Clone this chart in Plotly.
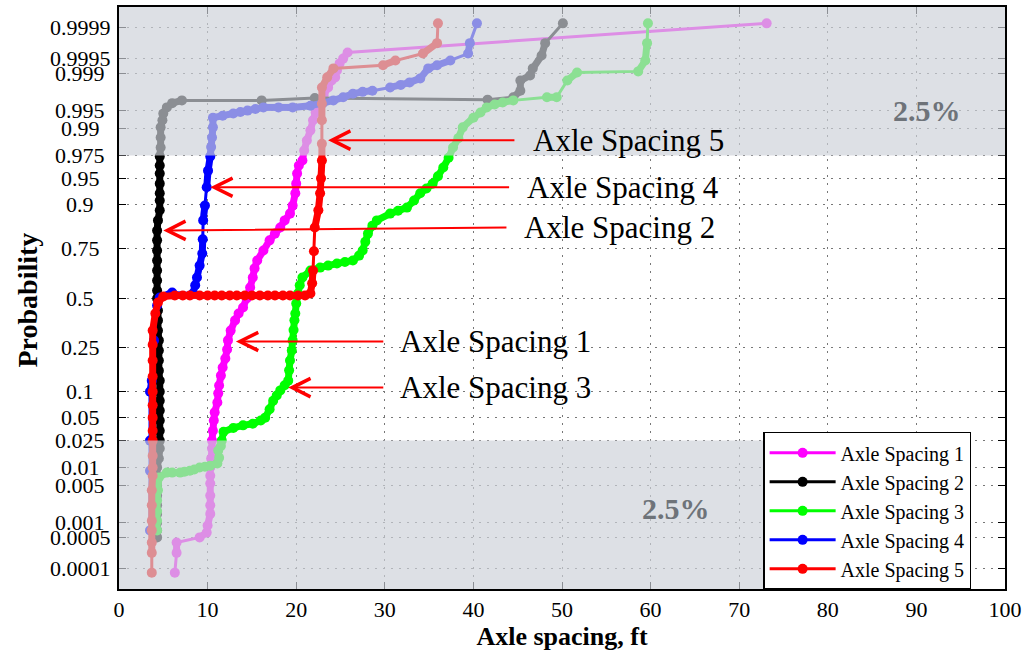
from statistics import NormalDist
import plotly.graph_objects as go

ppf = NormalDist().inv_cdf

series_names = ["Axle Spacing 1", "Axle Spacing 2", "Axle Spacing 3", "Axle Spacing 4", "Axle Spacing 5"]
series_colors = ["#ff00ff", "#000000", "#00ff00", "#0000ff", "#ff0000"]

spacing1_x = [6.3, 6.5, 6.5, 9.1, 9.9, 10.0, 10.3, 10.3, 10.3, 10.3, 10.3, 10.3, 10.4, 10.5, 10.5, 10.6,
              10.7, 10.8, 11.1, 11.2, 11.3, 11.5, 11.7, 12.0, 12.2, 12.3, 12.6, 13.1, 13.5, 14.0, 14.4,
              14.8, 15.1, 15.3, 15.6, 16.3, 17.0, 17.6, 18.2, 18.7, 19.3, 19.6, 19.9, 20.0, 20.1, 20.3,
              20.7, 20.9, 21.2, 21.6, 21.9, 22.2, 22.7, 23.1, 23.6, 24.0, 24.4, 24.6, 24.9, 25.3, 25.8,
              73.1]
spacing1_p = [0.00008, 0.00023, 0.00039, 0.0005, 0.00063, 0.00088, 0.0015, 0.0022, 0.0033, 0.0054,
              0.0073, 0.0099, 0.0137, 0.0193, 0.025, 0.034, 0.046, 0.058, 0.0754, 0.095, 0.1145, 0.143,
              0.17, 0.203, 0.2395, 0.28, 0.327, 0.379, 0.416, 0.448, 0.497, 0.557, 0.611, 0.658, 0.697,
              0.743, 0.786, 0.812, 0.834, 0.857, 0.877, 0.898, 0.925, 0.942, 0.9565, 0.9658, 0.9707,
              0.9787, 0.9848, 0.9894, 0.9927, 0.99462, 0.9963, 0.99732, 0.9981, 0.9986, 0.99879,
              0.99912, 0.99937, 0.9995, 0.99963, 0.99992]

spacing2_x = [4.3, 4.3, 4.3, 4.3, 4.3, 4.3, 4.3, 4.3, 4.3, 4.5, 4.6, 4.6, 4.6, 4.6, 4.6, 4.6, 4.6, 4.6,
              4.5, 4.5, 4.5, 4.5, 4.4, 4.4, 4.4, 4.3, 4.3, 4.3, 4.3, 4.3, 4.3, 4.3, 4.3, 4.4, 4.6, 4.6,
              4.6, 4.6, 4.6, 4.6, 4.6, 4.7, 4.7, 4.7, 4.9, 5.0, 5.4, 6.0, 7.1, 16.1, 22.1, 41.6, 44.5,
              45.3, 45.3, 46.4, 46.7, 47.7, 48.1, 50.1]
spacing2_p = [0.0005, 0.0007, 0.001, 0.0015, 0.0022, 0.0033, 0.005, 0.0073, 0.0099, 0.0137, 0.0193,
              0.025, 0.034, 0.046, 0.061, 0.079, 0.099, 0.128, 0.159, 0.195, 0.235, 0.28, 0.327, 0.379,
              0.432, 0.497, 0.541, 0.595, 0.647, 0.697, 0.743, 0.786, 0.823, 0.857, 0.886, 0.91, 0.925,
              0.942, 0.9565, 0.9658, 0.9742, 0.9807, 0.9863, 0.9905, 0.9927, 0.9944, 0.9956, 0.9963,
              0.9967, 0.9967, 0.9970, 0.9968, 0.9971, 0.9978, 0.9986, 0.99889, 0.9992, 0.99957,
              0.99977, 0.99992]

spacing3_x = [4.3, 4.3, 4.3, 4.3, 4.4, 4.5, 5.4, 6.0, 6.9, 7.4, 8.0, 8.5, 9.1, 9.7, 10.3, 11.1, 11.3,
              11.2, 11.5, 11.6, 11.8, 12.9, 14.0, 15.1, 16.0, 16.5, 17.0, 17.4, 17.8, 18.2, 18.7, 19.1,
              19.2, 19.3, 19.5, 19.6, 19.7, 19.8, 19.9, 20.0, 20.2, 20.4, 20.7, 21.6, 22.7, 23.6, 24.6,
              25.5, 26.4, 27.1, 27.5, 27.8, 28.1, 28.6, 29.1, 30.6, 31.5, 32.5, 33.3, 34.0, 34.7, 35.4,
              36.0, 36.6, 37.2, 37.7, 38.3, 38.8, 40.0, 40.8, 41.5, 42.4, 43.3, 44.5, 48.3, 49.4, 50.6,
              51.7, 58.6, 59.4, 59.6, 59.7]
spacing3_p = [0.0007, 0.0011, 0.0017, 0.0027, 0.0041, 0.0068, 0.0082, 0.0082, 0.0082, 0.0085, 0.0088,
              0.0092, 0.0099, 0.0102, 0.0106, 0.0115, 0.014, 0.018, 0.021, 0.025, 0.033, 0.037, 0.040,
              0.042, 0.046, 0.05, 0.063, 0.079, 0.090, 0.102, 0.115, 0.128, 0.16, 0.195, 0.235, 0.28,
              0.33, 0.38, 0.416, 0.47, 0.525, 0.57, 0.611, 0.647, 0.662, 0.672, 0.682, 0.69, 0.697,
              0.72, 0.743, 0.78, 0.812, 0.84, 0.857, 0.877, 0.885, 0.893, 0.91, 0.925, 0.934, 0.942,
              0.953, 0.9636, 0.973, 0.9807, 0.986, 0.9905, 0.9934, 0.9946, 0.9956, 0.9961, 0.9964,
              0.9967, 0.9971, 0.9971, 0.9986, 0.99903, 0.99908, 0.99945, 0.99977, 0.99992]

spacing4_x = [3.5, 3.5, 3.5, 3.5, 3.7, 3.95, 4.3, 4.6, 6.0, 8.35, 8.6, 8.8, 9.1, 9.4, 9.45, 9.5, 9.7,
              9.9, 10.05, 10.3, 10.4, 10.5, 10.6, 10.6, 11.7, 12.9, 13.7, 14.5, 15.4, 16.3, 18.0, 19.6,
              21.6, 23.0, 24.2, 25.3, 26.4, 27.5, 28.6, 30.6, 31.8, 32.8, 34.0, 34.9, 35.9, 37.4, 39.4,
              39.6, 40.4]
spacing4_p = [0.0007, 0.0088, 0.025, 0.099, 0.128, 0.28, 0.459, 0.503, 0.53, 0.525, 0.57, 0.611, 0.672,
              0.73, 0.79, 0.857, 0.898, 0.936, 0.96, 0.9742, 0.981, 0.9863, 0.9905, 0.9934, 0.9939,
              0.9944, 0.9947, 0.995, 0.9953, 0.9956, 0.9956, 0.9956, 0.9959, 0.9963, 0.9967, 0.9971,
              0.9975, 0.9977, 0.9978, 0.9981, 0.9983, 0.99848, 0.99873, 0.9992, 0.99931, 0.99945,
              0.99961, 0.99977, 0.99992]

spacing5_x = [3.7, 3.7, 3.7, 3.7, 3.7, 3.7, 3.7, 3.8, 3.8, 3.8, 3.8, 3.8, 3.8, 3.8, 3.8, 3.8, 3.8, 3.8,
              3.8, 4.1, 4.4, 5.0, 6.3, 7.2, 8.0, 9.1, 10.0, 10.8, 11.6, 12.5, 13.3, 14.2, 15.0, 15.9,
              16.8, 17.6, 18.5, 19.3, 20.2, 21.0, 21.6, 21.8, 21.9, 22.0, 22.1, 22.5, 22.7, 22.8, 22.9,
              22.9, 22.9, 22.9, 22.9, 23.5, 24.2, 29.8, 31.2, 34.3, 35.9, 36.0]
spacing5_p = [0.00008, 0.00023, 0.00039, 0.0007, 0.0011, 0.0022, 0.0041, 0.0073, 0.0099, 0.015, 0.025,
              0.034, 0.05, 0.07, 0.099, 0.14, 0.195, 0.26, 0.327, 0.416, 0.475, 0.508, 0.514, 0.514,
              0.514, 0.514, 0.514, 0.514, 0.514, 0.514, 0.514, 0.514, 0.514, 0.514, 0.514, 0.514, 0.514,
              0.514, 0.514, 0.514, 0.525, 0.58, 0.647, 0.74, 0.834, 0.886, 0.925, 0.95, 0.9707, 0.983,
              0.9927, 0.9962, 0.9981, 0.99879, 0.9992, 0.99931, 0.99945, 0.99961, 0.99977, 0.99992]

series_x = [spacing1_x, spacing2_x, spacing3_x, spacing4_x, spacing5_x]
series_p = [spacing1_p, spacing2_p, spacing3_p, spacing4_p, spacing5_p]

prob_ticks = [0.0001, 0.0005, 0.001, 0.005, 0.01, 0.025, 0.05, 0.1, 0.25, 0.5, 0.75, 0.9, 0.95,
              0.975, 0.99, 0.995, 0.999, 0.9995, 0.9999]
prob_labels = ["0.0001", "0.0005", "0.001", "0.005", "0.01", "0.025", "0.05", "0.1", "0.25", "0.5",
               "0.75", "0.9", "0.95", "0.975", "0.99", "0.995", "0.999", "0.9995", "0.9999"]
x_ticks = [0, 10, 20, 30, 40, 50, 60, 70, 80, 90, 100]

SERIF = "Liberation Serif, Times New Roman, serif"
PX_X, PX_Z = 8.86, 72.7  # screen pixels per x unit / per probit unit


def dense_runs(xs, zs, gap=18):
    # segments between closely packed points, drawn thick like overlapping markers
    ox, oz = [], []
    for i in range(len(xs) - 1):
        d = (((xs[i + 1] - xs[i]) * PX_X) ** 2 + ((zs[i + 1] - zs[i]) * PX_Z) ** 2) ** 0.5
        if d < gap:
            ox += [xs[i], xs[i + 1], None]
            oz += [zs[i], zs[i + 1], None]
    return ox, oz


fig = go.Figure()
for name, color, xs, ps in zip(series_names, series_colors, series_x, series_p):
    zs = [ppf(p) for p in ps]
    tx, tz = dense_runs(xs, zs)
    fig.add_trace(go.Scatter(x=tx, y=tz, mode="lines", showlegend=False, hoverinfo="skip",
                             line=dict(color=color, width=7)))
    fig.add_trace(go.Scatter(
        x=xs, y=zs, name=name,
        mode="lines+markers",
        line=dict(color=color, width=3),
        marker=dict(color=color, size=10),
    ))

# shaded 2.5% tails, drawn over the data
band = dict(type="rect", xref="paper", yref="y", layer="above",
            fillcolor="rgb(205,210,216)", opacity=0.68, line=dict(width=0))
fig.add_shape(**band, x0=0, x1=1, y0=ppf(0.975), y1=4)
fig.add_shape(**band, x0=0, x1=0.727, y0=-4, y1=ppf(0.025))

# arrows pointing to each curve
arrows = [
    (23.6, 0.985, 44.8, 0.985, "Axle Spacing 5", 46.5),
    (10.3, 0.936, 44.2, 0.936, "Axle Spacing 4", 45.8),
    (5.0, 0.823, 43.9, 0.834, "Axle Spacing 2", 45.5),
    (13.2, 0.275, 30.0, 0.275, "Axle Spacing 1", 31.5),
    (19.1, 0.109, 30.0, 0.109, "Axle Spacing 3", 31.5),
]
for tx, tp, ax, ap, label, lx in arrows:
    fig.add_annotation(x=tx, y=ppf(tp), ax=ax, ay=ppf(ap), axref="x", ayref="y",
                       text="", showarrow=True, arrowhead=5, arrowsize=1.8,
                       arrowwidth=2, arrowcolor="#ff0000")
    fig.add_annotation(x=lx, y=ppf(ap), text=label, showarrow=False, xanchor="left",
                       font=dict(family=SERIF, size=31, color="black"))

for x, p in [(91.2, 0.995), (62.9, 0.0019)]:
    fig.add_annotation(x=x, y=ppf(p), text="<b>2.5%</b>", showarrow=False,
                       font=dict(family=SERIF, size=30, color="#6e7379"))

# probability tick labels, centred in the left margin
for p, lab in zip(prob_ticks, prob_labels):
    fig.add_annotation(xref="paper", x=-0.044, y=ppf(p), text=lab, showarrow=False,
                       xanchor="center", font=dict(family=SERIF, size=22, color="black"))
fig.add_annotation(xref="paper", yref="paper", x=-0.103, y=0.497, text="<b>Probability</b>",
                   textangle=-90, showarrow=False, xanchor="center", yanchor="middle",
                   font=dict(family=SERIF, size=28, color="black"))

axis_style = dict(showline=True, linecolor="black", linewidth=1.5, mirror="ticks",
                  ticks="inside", ticklen=7, tickcolor="black", automargin=False,
                  showgrid=True, gridcolor="#777", gridwidth=1, griddash="2px,6px",
                  zeroline=False, tickfont=dict(family=SERIF, size=22, color="black"))

fig.update_xaxes(range=[0, 100], tickvals=x_ticks, **axis_style,
                 title=dict(text="<b>Axle spacing, ft</b>", standoff=2,
                            font=dict(family=SERIF, size=26, color="black")))
fig.update_yaxes(range=[-4, 4], tickvals=[ppf(p) for p in prob_ticks], showticklabels=False,
                 **axis_style)

fig.update_layout(
    width=1026, height=658,
    margin=dict(l=119, r=21, t=7, b=69),
    plot_bgcolor="white", paper_bgcolor="white",
    legend=dict(x=0.727, y=0.27, xanchor="left", yanchor="top", bgcolor="white",
                bordercolor="black", borderwidth=1.5, itemwidth=66, tracegroupgap=0,
                font=dict(family=SERIF, size=20, color="black")),
)

fig.write_html("out.html", config={"displayModeBar": False},
               post_script="document.body.style.margin='0';")
